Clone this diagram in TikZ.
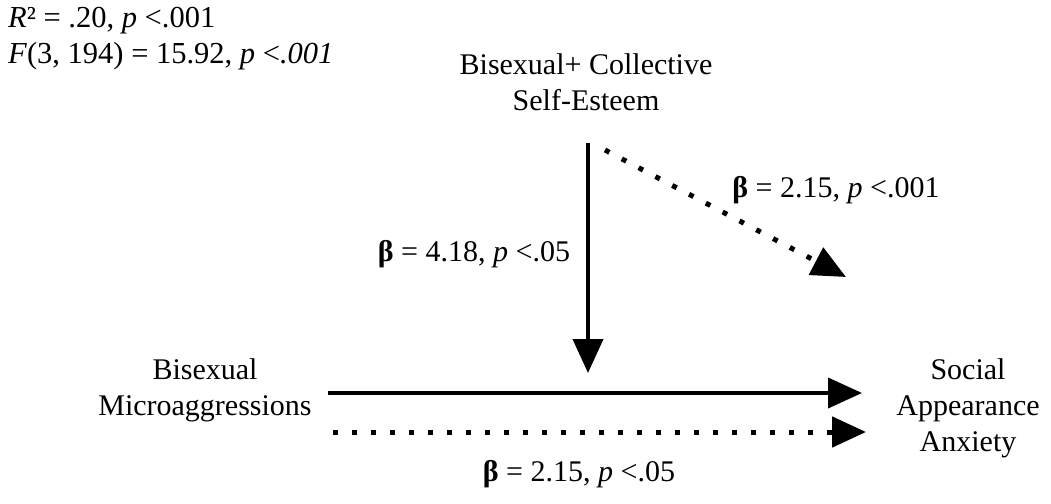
\documentclass[tikz,border=0pt]{standalone}
\usepackage{fontspec}
\setmainfont{Liberation Serif}
\usetikzlibrary{arrows.meta}
\begin{document}
\begin{tikzpicture}[x=1pt,y=-1pt,
  lbl/.style={inner sep=0pt,font=\fontsize{30}{36}\selectfont,align=center},
  stat/.style={inner sep=0pt,font=\fontsize{30.5}{30}\selectfont,anchor=west},
  tip/.style={-{Triangle[length=34pt,width=30pt]}},
  solidarrow/.style={tip,line width=4pt},
  dotarrow/.style={tip,line width=5pt,dash pattern=on 5pt off 14pt}]
\useasboundingbox (0,0) rectangle (1051,503);
\node[stat] (r2) at (8,21) {\textit{R}² = .20, \textit{p} <.001};
\node[stat] (f) at (8,56) {\textit{F}(3, 194) = 15.92, \textit{p} <\textit{.001}};
\node[lbl] (mod) at (586,82) {Bisexual+ Collective\\Self-Esteem};
\node[lbl] (x) at (205,390) {Bisexual\\Microaggressions};
\node[lbl] (y) at (968,408) {Social\\Appearance\\Anxiety};
\node[lbl] (b1) at (836,190) {\textbf{β} = 2.15, \textit{p} <.001};
\node[lbl] (b2) at (474,254) {\textbf{β} = 4.18, \textit{p} <.05};
\node[lbl] (b3) at (579,474) {\textbf{β} = 2.15, \textit{p} <.05};
\coordinate (vs) at (588,143);
\coordinate (ve) at (588,373);
\coordinate (ds) at (605,150);
\coordinate (de) at (846,277);
\coordinate (hs) at (328,393);
\coordinate (he) at (862,393);
\coordinate (ls) at (333,432);
\coordinate (le) at (866,432);
\draw[solidarrow] (vs) -- (ve);
\draw[dotarrow] (ds) -- (de);
\draw[solidarrow] (hs) -- (he);
\draw[dotarrow] (ls) -- (le);
\end{tikzpicture}
\end{document}
